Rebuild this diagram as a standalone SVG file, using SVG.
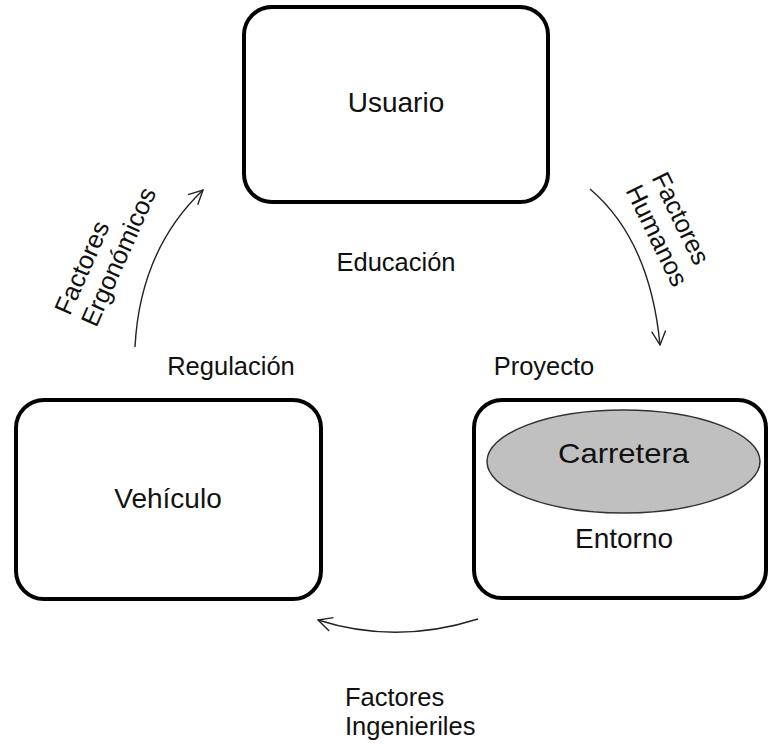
<svg xmlns="http://www.w3.org/2000/svg" width="769" height="744" viewBox="0 0 769 744">
<style>
.box{fill:#fff;stroke:#000;stroke-width:4}
.node{font-family:"Liberation Sans",Arial,sans-serif;font-size:28px;fill:#111;text-anchor:middle}
.lbl{font-family:"Liberation Sans",Arial,sans-serif;font-size:25.5px;fill:#111}
.mid{text-anchor:middle}
.conn{fill:none;stroke:#222;stroke-width:1.4}
</style>
<defs>
<marker id="open" viewBox="0 0 16 16" refX="15" refY="8" markerWidth="16" markerHeight="16" markerUnits="userSpaceOnUse" orient="auto">
<path d="M1,1 L15,8 L1,15" fill="none" stroke="#222" stroke-width="1.4"/>
</marker>
</defs>
<rect width="769" height="744" fill="#fff"/>
<g id="usuario">
<rect class="box" x="244" y="7" width="304" height="195" rx="28"/>
<text class="node" x="396" y="112">Usuario</text>
</g>
<g id="vehiculo">
<rect class="box" x="16" y="400" width="305" height="199" rx="28"/>
<text class="node" x="168" y="508">Vehículo</text>
</g>
<g id="entorno">
<rect class="box" x="474" y="400" width="292" height="198" rx="28"/>
<ellipse cx="623.5" cy="461.5" rx="136.5" ry="51.5" fill="#c0c0c0" stroke="#333" stroke-width="1.5"/>
<text class="node" x="623.5" y="463" textLength="131" lengthAdjust="spacingAndGlyphs">Carretera</text>
<text class="node" x="624" y="548">Entorno</text>
</g>
<g id="labels">
<text class="lbl mid" x="396" y="271">Educación</text>
<text class="lbl mid" x="231" y="375">Regulación</text>
<text class="lbl mid" x="544" y="375">Proyecto</text>
<text class="lbl" x="345" y="706">Factores</text>
<text class="lbl" x="345" y="735">Ingenieriles</text>
<g transform="translate(69.7,316.5) rotate(-66)">
<text class="lbl" x="0" y="0">Factores</text>
<text class="lbl" x="0" y="29">Ergonómicos</text>
</g>
<g transform="translate(651.3,177.6) rotate(64)">
<text class="lbl" x="0" y="0">Factores</text>
<text class="lbl" x="0" y="29">Humanos</text>
</g>
</g>
<g id="connectors">
<path class="conn" d="M135,347 Q140,250 203,190" marker-end="url(#open)"/>
<path class="conn" d="M590,189 Q650,240 660,345" marker-end="url(#open)"/>
<path class="conn" d="M478,619 Q396,645 318,620" marker-end="url(#open)"/>
</g>
</svg>
